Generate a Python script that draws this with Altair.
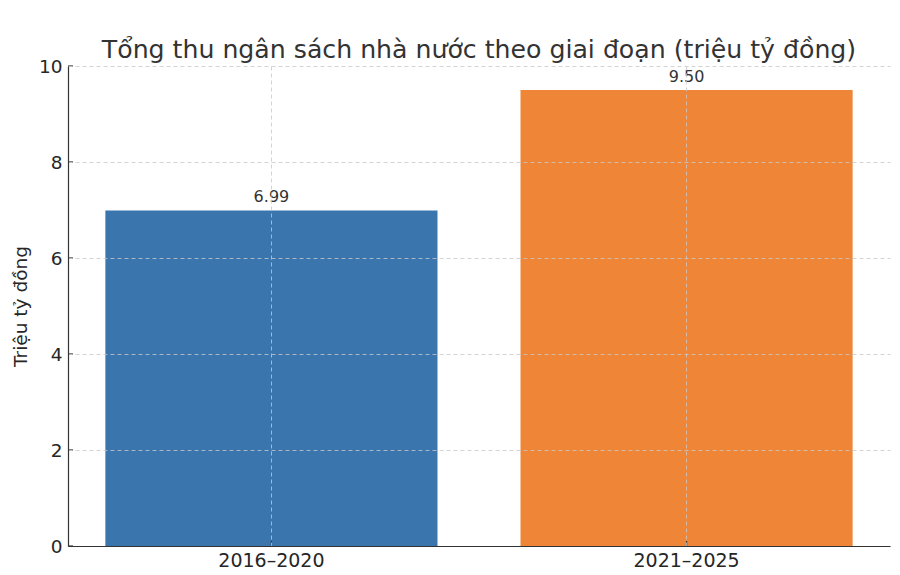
import altair as alt
import pandas as pd

periods = ["2016–2020", "2021–2025"]
values = [6.99, 9.50]
labels = ["6.99", "9.50"]
colors = ["#3a75ae", "#ef8536"]
y_ticks = [0, 2, 4, 6, 8, 10]

df = pd.DataFrame({"period": periods, "value": values, "label": labels})
ticks_df = pd.DataFrame({"tick": y_ticks})

FONT = "DejaVu Sans"
H = 480

x_enc = alt.X(
    "period:N",
    sort=periods,
    title=None,
    scale=alt.Scale(paddingInner=0.2, paddingOuter=0.09),
    axis=alt.Axis(
        labelAngle=0, labelFontSize=19, labelColor="#262626", labelFont=FONT,
        labelBaseline="alphabetic",
        grid=True, gridDash=[4, 3], gridColor="#c8c8c8", gridWidth=0.8,
        bandPosition=0.5, domainColor="#333333", domainWidth=1.2,
        ticks=False, tickSize=0, labelPadding=20, zindex=1,
    ),
)
y_enc = alt.Y(
    "value:Q",
    title="Triệu tỷ đồng",
    scale=alt.Scale(domain=[0, 10], nice=False),
    axis=alt.Axis(
        values=y_ticks, labelFontSize=18.5, labelColor="#262626", labelFont=FONT,
        grid=True, gridDash=[4, 3], gridColor="#c8c8c8", gridWidth=0.8,
        domainColor="#333333", domainWidth=1.2, ticks=False, tickSize=0,
        titleFontSize=18.5, titleFont=FONT, titleFontWeight="normal", titleColor="#262626",
        titlePadding=8, labelPadding=6, zindex=1,
    ),
)

bars = alt.Chart(df).mark_bar().encode(
    x=x_enc,
    y=y_enc,
    color=alt.Color("period:N", scale=alt.Scale(domain=periods, range=colors), legend=None),
)

text = alt.Chart(df).mark_text(
    baseline="bottom", dy=-5, fontSize=16, font=FONT, color="#333333"
).encode(
    x=alt.X("period:N", sort=periods),
    y=alt.Y("value:Q"),
    text="label:N",
)

# inward tick marks (matplotlib-style)
x_ticks = alt.Chart(df).mark_rule(color="#333333", strokeWidth=1.2).encode(
    x=alt.X("period:N", sort=periods),
    y=alt.value(H),
    y2=alt.value(H - 5),
)
y_tick_marks = alt.Chart(ticks_df).mark_rule(color="#333333", strokeWidth=1.2).encode(
    y=alt.Y("tick:Q"),
    x=alt.value(0),
    x2=alt.value(5),
)

chart = (
    alt.layer(bars, text, x_ticks, y_tick_marks)
    .properties(
        width=822,
        height=H,
        title=alt.TitleParams(
            "Tổng thu ngân sách nhà nước theo giai đoạn (triệu tỷ đồng)",
            fontSize=25.2, font=FONT, fontWeight="normal", color="#333333",
            anchor="middle", frame="group", offset=0, dy=6,
        ),
        autosize=alt.AutoSizeParams(type="none"),
        padding={"left": 60, "top": 58, "right": 2, "bottom": 21},
    )
    .configure_view(stroke=None)
)

chart.save("out.html", embed_options={"renderer": "svg", "actions": False})
